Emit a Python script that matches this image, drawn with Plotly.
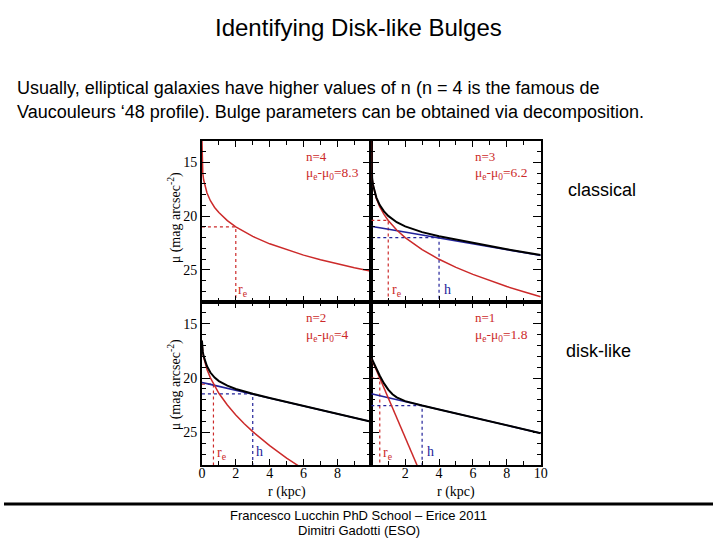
import plotly.graph_objects as go

# ---------------- data ----------------
# Panel 1: n=4 (classical), bulge only
r1 = [0, 0.02, 0.05, 0.1, 0.2, 0.3, 0.5, 0.75, 1, 1.5, 2, 2.5, 3, 4, 5, 6, 7, 8, 9, 10]
bulge1 = [12.8, 15.30, 15.98, 16.61, 17.35, 17.85, 18.56, 19.19, 19.67, 20.42, 21.00,
          21.48, 21.89, 22.58, 23.14, 23.63, 24.06, 24.45, 24.80, 25.13]

# Panel 2: n=3
r2 = [0, 0.02, 0.05, 0.1, 0.2, 0.3, 0.5, 0.75, 1, 1.5, 2, 2.5, 3, 4, 5, 6, 7, 8, 9, 10]
bulge2 = [13.0, 15.91, 16.51, 17.10, 17.84, 18.36, 19.13, 19.84, 20.40, 21.29, 22.00,
          22.60, 23.12, 24.02, 24.77, 25.43, 26.02, 26.56, 27.05, 27.51]
disk2 = [20.95, 20.96, 20.96, 20.98, 21.00, 21.03, 21.09, 21.15, 21.22, 21.36, 21.49,
         21.63, 21.76, 22.04, 22.31, 22.58, 22.85, 23.12, 23.39, 23.66]
total2 = [13.0, 15.90, 16.49, 17.07, 17.78, 18.27, 18.97, 19.56, 19.98, 20.57, 20.96,
          21.26, 21.49, 21.88, 22.20, 22.50, 22.79, 23.08, 23.35, 23.63]

# Panel 3: n=2 (disk-like)
r3 = [0, 0.02, 0.05, 0.1, 0.2, 0.3, 0.5, 0.75, 1, 1.5, 2, 2.5, 3, 4, 5, 6, 7, 8, 9, 10]
bulge3 = [16.57, 17.25, 17.65, 18.10, 18.73, 19.21, 19.98, 20.75, 21.40, 22.48, 23.40,
          24.20, 24.93, 26.22, 27.36, 28.39, None, None, None, None]
disk3 = [20.40, 20.41, 20.42, 20.44, 20.47, 20.51, 20.58, 20.67, 20.76, 20.94, 21.12,
         21.30, 21.49, 21.85, 22.21, 22.57, 22.93, 23.30, 23.66, 24.02]
total3 = [16.54, 17.19, 17.57, 17.98, 18.53, 18.92, 19.49, 19.96, 20.28, 20.70, 21.00,
          21.23, 21.45, 21.83, 22.20, 22.57, 22.93, 23.30, 23.66, 24.02]

# Panel 4: n=1 (disk-like)
r4 = [0, 0.25, 0.5, 0.75, 1, 1.25, 1.5, 2, 2.5, 3, 4, 5, 6, 7, 8, 9, 10]
bulge4 = [18.18, 19.09, 20.00, 20.91, 21.82, 22.73, 23.64, 25.47, 27.29, 29.11,
          None, None, None, None, None, None, None]
disk4 = [21.45, 21.54, 21.63, 21.72, 21.81, 21.90, 21.99, 22.17, 22.35, 22.54,
         22.90, 23.26, 23.62, 23.98, 24.35, 24.71, 25.07]
total4 = [18.13, 18.98, 19.78, 20.49, 21.06, 21.49, 21.78, 22.12, 22.34, 22.53,
          22.90, 23.26, 23.62, 23.98, 24.35, 24.71, 25.07]

# marker lines: effective radius / disk scale length
re_vals = [2.0, 1.0, 0.68, 0.5]
mue_vals = [21.0, 20.4, 20.55, 20.0]
h_vals = [None, 4.0, 3.0, 3.0]
muh_vals = [None, 22.0, 21.45, 22.54]

n_labels = ["n=4", "n=3", "n=2", "n=1"]
dmu_labels = ["8.3", "6.2", "4", "1.8"]
re_label_x = [2.4, 1.5, 1.2, 1.0]
h_label_x = [None, 4.5, 3.4, 3.5]

x_ticks_left = [0, 2, 4, 6, 8]
x_ticks_right = [2, 4, 6, 8, 10]
y_ticks = [15, 20, 25]

# ---------------- styling ----------------
RED = "#cc2a2a"
BLUE = "#23239a"
BLACK = "#000000"
SERIF = "Liberation Serif, Times New Roman, serif"
SANS = "Liberation Sans, Arial, sans-serif"

W, H = 720, 540
xl0, xm, xr1 = 201 / W, 373 / W, 545 / W
yt1, ym, yb0 = 1 - 141 / H, 1 - 302 / H, 1 - 465 / H

fig = go.Figure()

panels = [
    dict(ax="", r=r1, bulge=bulge1, disk=None, total=None),
    dict(ax="2", r=r2, bulge=bulge2, disk=disk2, total=total2),
    dict(ax="3", r=r3, bulge=bulge3, disk=disk3, total=total3),
    dict(ax="4", r=r4, bulge=bulge4, disk=disk4, total=total4),
]

annotations = []
for i, p in enumerate(panels):
    xa = "x" + p["ax"]
    ya = "y" + p["ax"]
    # dotted guide lines (r_e)
    fig.add_trace(go.Scatter(x=[0, re_vals[i], re_vals[i]], y=[mue_vals[i], mue_vals[i], 28],
                             mode="lines", line=dict(color=RED, width=1.2, dash="dot"),
                             xaxis=xa, yaxis=ya, showlegend=False, hoverinfo="skip"))
    if h_vals[i] is not None:
        fig.add_trace(go.Scatter(x=[0, h_vals[i], h_vals[i]], y=[muh_vals[i], muh_vals[i], 28],
                                 mode="lines", line=dict(color=BLUE, width=1.2, dash="dot"),
                                 xaxis=xa, yaxis=ya, showlegend=False, hoverinfo="skip"))
    if p["disk"] is not None:
        fig.add_trace(go.Scatter(x=p["r"], y=p["disk"], mode="lines",
                                 line=dict(color=BLUE, width=1.6),
                                 xaxis=xa, yaxis=ya, showlegend=False))
    fig.add_trace(go.Scatter(x=p["r"], y=p["bulge"], mode="lines",
                             line=dict(color=RED, width=1.5),
                             xaxis=xa, yaxis=ya, showlegend=False))
    if p["total"] is not None:
        fig.add_trace(go.Scatter(x=p["r"], y=p["total"], mode="lines",
                                 line=dict(color=BLACK, width=2),
                                 xaxis=xa, yaxis=ya, showlegend=False))
    # panel labels
    annotations.append(dict(x=6.0, y=14.45, xref=xa, yref=ya, text=n_labels[i],
                            showarrow=False, xanchor="left", yanchor="middle",
                            font=dict(family=SERIF, size=13, color=RED)))
    annotations.append(dict(x=6.0, y=16.05, xref=xa, yref=ya,
                            text="μ<sub>e</sub>-μ<sub>0</sub>=" + dmu_labels[i],
                            showarrow=False, xanchor="left", yanchor="middle",
                            font=dict(family=SERIF, size=13.5, color=RED)))
    annotations.append(dict(x=re_label_x[i], y=26.9, xref=xa, yref=ya,
                            text="r<sub>e</sub>", showarrow=False,
                            xanchor="center", yanchor="middle",
                            font=dict(family=SERIF, size=14, color=RED)))
    if h_label_x[i] is not None:
        annotations.append(dict(x=h_label_x[i], y=26.8, xref=xa, yref=ya,
                                text="h", showarrow=False,
                                xanchor="center", yanchor="middle",
                                font=dict(family=SERIF, size=14, color=BLUE)))

axis_common = dict(showline=True, linecolor="black", linewidth=2, mirror="ticks",
                   ticks="inside", tickcolor="black", tickwidth=1,
                   showgrid=False, zeroline=False,
                   tickfont=dict(family=SERIF, size=14, color="black"))

def xaxis(domain, anchor, ticks, show):
    return dict(axis_common, domain=domain, anchor=anchor, range=[0, 10],
                tickmode="array", tickvals=ticks, ticktext=[str(t) for t in ticks],
                showticklabels=show, ticklen=6, ticklabelstandoff=-6,
                minor=dict(ticks="inside", dtick=1, tick0=0, ticklen=4,
                           tickcolor="black", tickwidth=1))

def yaxis(domain, anchor, show):
    return dict(axis_common, domain=domain, anchor=anchor, range=[28, 13],
                tickmode="array", tickvals=y_ticks, ticktext=[str(t) for t in y_ticks],
                showticklabels=show, ticklen=8,
                minor=dict(ticks="inside", dtick=1, tick0=0, ticklen=4,
                           tickcolor="black", tickwidth=1))

fig.update_layout(
    width=W, height=H, margin=dict(l=0, r=0, t=0, b=0),
    paper_bgcolor="white", plot_bgcolor="white", showlegend=False,
    xaxis=xaxis([xl0, xm], "y", x_ticks_left, False),
    yaxis=yaxis([ym, yt1], "x", True),
    xaxis2=xaxis([xm, xr1], "y2", x_ticks_right, False),
    yaxis2=yaxis([ym, yt1], "x2", False),
    xaxis3=xaxis([xl0, xm], "y3", x_ticks_left, True),
    yaxis3=yaxis([yb0, ym], "x3", True),
    xaxis4=xaxis([xm, xr1], "y4", x_ticks_right, True),
    yaxis4=yaxis([yb0, ym], "x4", False),
)

# axis titles
ytitle = "μ (mag arcsec<sup>-2</sup>)"
for yc in [1 - 218 / H, 1 - 385 / H]:
    annotations.append(dict(x=174 / W, y=yc, xref="paper", yref="paper", text=ytitle,
                            textangle=-90, showarrow=False, xanchor="center", yanchor="middle",
                            font=dict(family=SERIF, size=14, color="black")))
for xc in [287 / W, 459 / W]:
    annotations.append(dict(x=xc, y=1 - 492 / H, xref="paper", yref="paper", text="r (kpc)",
                            showarrow=False, xanchor="center", yanchor="middle",
                            font=dict(family=SERIF, size=14, color="black")))

# slide text
annotations += [
    dict(x=0.5, y=1 - 28 / H, xref="paper", yref="paper", text="Identifying Disk-like Bulges",
         showarrow=False, xanchor="center", yanchor="middle",
         font=dict(family=SANS, size=24, color="black")),
    dict(x=11 / W, y=1 - 88 / H, xref="paper", yref="paper",
         text="Usually, elliptical galaxies have higher values of n (n = 4 is the famous de",
         showarrow=False, xanchor="left", yanchor="middle",
         font=dict(family=SANS, size=18, color="black")),
    dict(x=11 / W, y=1 - 112 / H, xref="paper", yref="paper",
         text="Vaucouleurs ‘48 profile). Bulge parameters can be obtained via decomposition.",
         showarrow=False, xanchor="left", yanchor="middle",
         font=dict(family=SANS, size=18, color="black")),
    dict(x=571 / W, y=1 - 190 / H, xref="paper", yref="paper", text="classical",
         showarrow=False, xanchor="left", yanchor="middle",
         font=dict(family=SANS, size=18, color="black")),
    dict(x=569 / W, y=1 - 351 / H, xref="paper", yref="paper", text="disk-like",
         showarrow=False, xanchor="left", yanchor="middle",
         font=dict(family=SANS, size=18, color="black")),
    dict(x=0.5, y=1 - 515 / H, xref="paper", yref="paper",
         text="Francesco Lucchin PhD School – Erice 2011",
         showarrow=False, xanchor="center", yanchor="middle",
         font=dict(family=SANS, size=13, color="black")),
    dict(x=0.5, y=1 - 530 / H, xref="paper", yref="paper",
         text="Dimitri Gadotti (ESO)",
         showarrow=False, xanchor="center", yanchor="middle",
         font=dict(family=SANS, size=13, color="black")),
]

fig.update_layout(
    annotations=annotations,
    shapes=[dict(type="line", xref="paper", yref="paper", x0=0, x1=1,
                 y0=1 - 504 / H, y1=1 - 504 / H, line=dict(color="black", width=3))],
)

fig.write_html("out.html", config={"displayModeBar": False},
               post_script="document.body.style.margin='0px';document.body.style.overflow='hidden';")
